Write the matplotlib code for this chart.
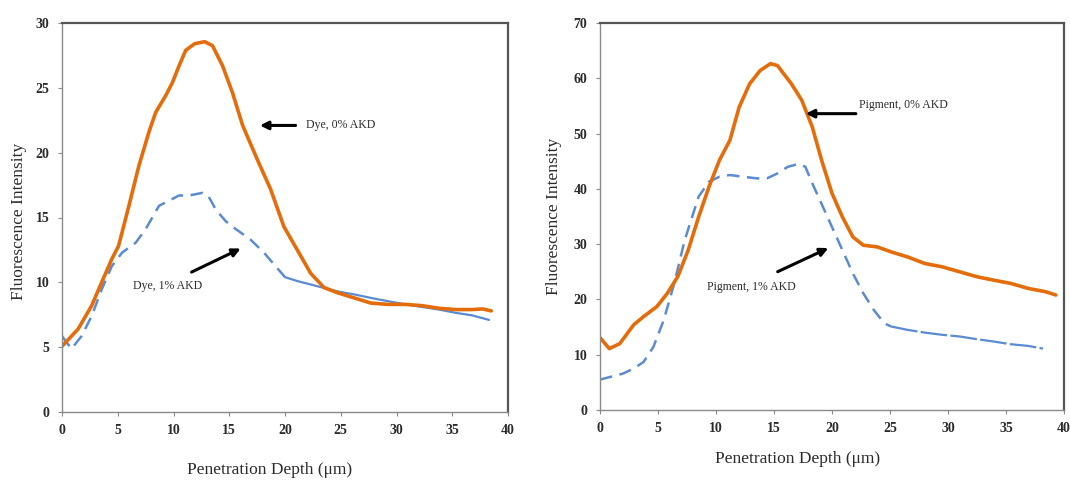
import matplotlib
matplotlib.use("Agg")
import matplotlib.pyplot as plt

plt.rcParams['font.family'] = ['Liberation Serif', 'DejaVu Serif']

# ---- Data: Dye (left panel) ----
dye0_x = [0, 1.45, 2.66, 3.56, 4.47, 5.07, 6.0, 6.9, 7.8, 8.4, 9.3, 9.9, 10.5, 11.1, 11.9,
          12.8, 13.5, 14.4, 15.3, 16.2, 17.5, 18.7, 19.9, 21.1, 22.3, 23.5, 24.7, 26.2,
          27.7, 29.2, 30.8, 32.3, 33.8, 35.3, 36.8, 37.7, 38.5]
dye0_y = [5.07, 6.4, 8.2, 10.0, 11.8, 12.8, 15.9, 19.0, 21.6, 23.1, 24.4, 25.4, 26.7, 27.9, 28.4,
          28.56, 28.25, 26.7, 24.6, 22.1, 19.5, 17.2, 14.3, 12.5, 10.7, 9.6, 9.2, 8.8,
          8.4, 8.3, 8.3, 8.2, 8.0, 7.9, 7.9, 7.95, 7.8]

dye1_x = [0, 0.85, 1.75, 2.66, 3.56, 4.47, 5.4, 6.6, 7.5, 8.7, 9.6, 10.5, 11.4, 12.6, 13.1,
          13.8, 14.7, 15.6, 16.9, 18.1, 19.3, 20.0, 21.1, 22.9, 24.7, 26.2, 27.7, 29.2,
          30.8, 32.3, 33.8, 35.3, 36.8, 38.3]
dye1_y = [5.85, 4.87, 5.85, 7.4, 9.45, 11.25, 12.3, 13.05, 14.1, 15.9, 16.3, 16.7, 16.7, 16.9, 16.7,
          15.6, 14.7, 14.1, 13.3, 12.3, 11.1, 10.4, 10.1, 9.7, 9.3, 9.07, 8.8, 8.55,
          8.3, 8.1, 7.9, 7.65, 7.45, 7.1]

# ---- Data: Pigment (right panel) ----
pig0_x = [0, 0.8, 1.7, 2.9, 3.76, 4.9, 5.8, 6.7, 7.6, 8.5, 9.4, 10.3, 11.2, 12.0, 12.9, 13.8,
          14.7, 15.3, 16.5, 17.4, 18.3, 19.1, 20.0, 20.9, 21.8, 22.7, 23.9, 25.1, 26.5, 28.0,
          29.5, 31.0, 32.5, 33.9, 35.4, 36.9, 38.4, 39.3]
pig0_y = [13.1, 11.1, 12.0, 15.4, 16.9, 18.7, 21.1, 24.1, 28.9, 34.9, 40.4, 45.2, 48.8, 54.8, 59.0, 61.4,
          62.65, 62.3, 59.0, 56.0, 51.2, 45.2, 39.2, 34.9, 31.3, 29.8, 29.5, 28.6, 27.7, 26.5,
          25.9, 25.0, 24.1, 23.5, 22.9, 22.0, 21.4, 20.8]

pig1_x = [0, 2.0, 2.9, 3.76, 4.6, 5.5, 6.4, 7.3, 8.5, 9.4, 10.3, 11.2, 12.3, 13.5, 14.4, 15.3,
          16.2, 17.1, 17.7, 18.3, 19.1, 20.0, 20.9, 21.8, 22.7, 23.6, 24.5, 25.1, 26.5, 28.0,
          29.5, 31.0, 32.5, 33.9, 35.4, 36.9, 38.2]
pig1_y = [5.5, 6.6, 7.5, 8.7, 11.4, 16.3, 22.9, 30.7, 38.6, 41.3, 42.2, 42.5, 42.2, 41.9, 41.9, 42.8,
          44.0, 44.5, 44.0, 41.0, 37.3, 33.1, 28.9, 24.7, 21.1, 18.1, 15.7, 15.1, 14.5, 14.0,
          13.6, 13.3, 12.8, 12.4, 11.9, 11.6, 11.1]

x_ticks = [0, 5, 10, 15, 20, 25, 30, 35, 40]
dye_yticks = [0, 5, 10, 15, 20, 25, 30]
pig_yticks = [0, 10, 20, 30, 40, 50, 60, 70]

ORANGE = '#E46C0A'
BLUE = '#5B8BD2'
TXT = '#2b2b2b'

fig = plt.figure(figsize=(10.7, 4.83), dpi=100)
axL = fig.add_axes([62 / 1070, (483 - 412) / 483, 446 / 1070, 389 / 483])
axR = fig.add_axes([600 / 1070, (483 - 410) / 483, 464 / 1070, 387 / 483])

LINE_KW = dict(solid_joinstyle='round', solid_capstyle='round', dash_joinstyle='round')


def style(ax, yticks):
    ax.set_xlim(0, 40)
    ax.set_ylim(yticks[0], yticks[-1])
    ax.set_xticks(x_ticks)
    ax.set_yticks(yticks)
    for s in ['left', 'bottom']:
        ax.spines[s].set_color('#8a8a8a')
        ax.spines[s].set_linewidth(1.0)
    for s in ['top', 'right']:
        ax.spines[s].set_color('#555555')
        ax.spines[s].set_linewidth(1.6)
    ax.tick_params(axis='both', direction='out', length=3, width=0.8, color='#8a8a8a',
                   labelsize=10, labelcolor=TXT, pad=6)
    for lab in ax.get_xticklabels() + ax.get_yticklabels():
        lab.set_fontweight('bold')


# Left panel
i20 = dye1_x.index(20.0)
axL.plot(dye1_x[:i20 + 1], dye1_y[:i20 + 1], color=BLUE, lw=1.8, ls=(0, (5, 3)), **LINE_KW)
axL.plot(dye1_x[i20:], dye1_y[i20:], color=BLUE, lw=1.6, **LINE_KW)
axL.plot(dye0_x, dye0_y, color=ORANGE, lw=2.6, **LINE_KW)
style(axL, dye_yticks)
axL.set_xlabel('Penetration Depth (\u03bcm)', fontsize=12.5, color=TXT)
axL.set_ylabel('Fluorescence Intensity', fontsize=12.5, color=TXT)
axL.xaxis.set_label_coords(0.466, -0.128)
axL.yaxis.set_label_coords(-0.078, 0.49)

axL.annotate('', xy=(17.5, 22.1), xytext=(21.2, 22.1),
             arrowprops=dict(arrowstyle='-|>', color='black', lw=2.2, mutation_scale=12))
axL.text(21.9, 22.1, 'Dye, 0% AKD', fontsize=8.5, va='center', ha='left', color=TXT)
axL.annotate('', xy=(16.25, 12.7), xytext=(11.4, 10.7),
             arrowprops=dict(arrowstyle='-|>', color='black', lw=2.2, mutation_scale=12))
axL.text(6.4, 9.7, 'Dye, 1% AKD', fontsize=8.5, va='center', ha='left', color=TXT)

# Right panel
i25 = pig1_x.index(25.1)
axR.plot(pig1_x[:i25 + 1], pig1_y[:i25 + 1], color=BLUE, lw=1.8, ls=(0, (5, 3)), **LINE_KW)
axR.plot(pig1_x[i25:], pig1_y[i25:], color=BLUE, lw=1.6, ls=(0, (12, 1.5)), **LINE_KW)
axR.plot(pig0_x, pig0_y, color=ORANGE, lw=2.6, **LINE_KW)
style(axR, pig_yticks)
axR.set_xlabel('Penetration Depth (\u03bcm)', fontsize=12.5, color=TXT)
axR.set_ylabel('Fluorescence Intensity', fontsize=12.5, color=TXT)
axR.xaxis.set_label_coords(0.425, -0.105)
axR.yaxis.set_label_coords(-0.082, 0.50)

axR.annotate('', xy=(17.5, 53.6), xytext=(22.3, 53.6),
             arrowprops=dict(arrowstyle='-|>', color='black', lw=2.2, mutation_scale=12))
axR.text(22.3, 55.1, 'Pigment, 0% AKD', fontsize=8.5, va='center', ha='left', color=TXT)
axR.annotate('', xy=(19.9, 29.5), xytext=(15.1, 24.8),
             arrowprops=dict(arrowstyle='-|>', color='black', lw=2.2, mutation_scale=12))
axR.text(9.2, 22.3, 'Pigment, 1% AKD', fontsize=8.5, va='center', ha='left', color=TXT)

fig.savefig('out.png', dpi=100, facecolor='white')
